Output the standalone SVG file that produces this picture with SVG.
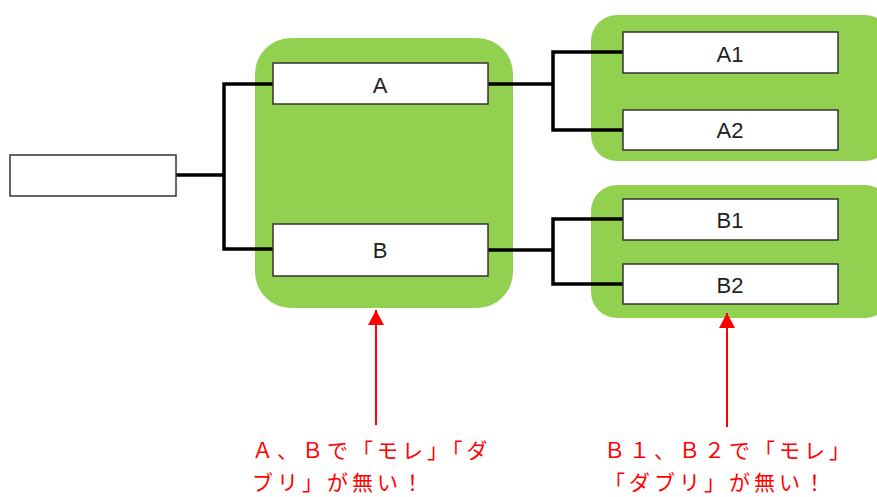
<svg xmlns="http://www.w3.org/2000/svg" width="877" height="497" viewBox="0 0 877 497">
<style>
.grp{fill:#92d050}
.box{fill:#fff;stroke:#333;stroke-width:1.5}
.lbl{font-family:"Liberation Sans","Noto Sans CJK JP",sans-serif;font-size:22px;fill:#222;text-anchor:middle}
.con{fill:none;stroke:#000;stroke-width:3.5}
.red{fill:none;stroke:#f00;stroke-width:2}
.note{font-family:"Noto Sans CJK JP",sans-serif;font-size:21px;fill:#f00;letter-spacing:4px}
</style>
<defs>
<marker id="ah" markerWidth="16" markerHeight="16" refX="15" refY="8" orient="auto" markerUnits="userSpaceOnUse" viewBox="0 0 16 16">
<path d="M0,0 L15,8 L0,16 Z" fill="#f00"/>
</marker>
</defs>
<rect class="grp" x="255" y="38" width="258" height="270" rx="36"/>
<rect class="grp" x="591" y="15" width="300" height="146" rx="26"/>
<rect class="grp" x="591" y="185" width="300" height="133" rx="26"/>
<g id="connectors">
<polyline class="con" points="176,175 224,175"/>
<polyline class="con" points="274,84 224,84 224,249 274,249"/>
<polyline class="con" points="488,84 553,84"/>
<polyline class="con" points="623,52 553,52 553,130 623,130"/>
<polyline class="con" points="488,250 553,250"/>
<polyline class="con" points="623,219 553,219 553,284 623,284"/>
</g>
<g id="root"><rect class="box" x="10" y="155" width="166" height="41"/></g>
<g id="nodeA"><rect class="box" x="273" y="63" width="215" height="41"/><text class="lbl" x="380" y="93">A</text></g>
<g id="nodeB"><rect class="box" x="273" y="224" width="215" height="52"/><text class="lbl" x="380" y="258">B</text></g>
<g id="nodeA1"><rect class="box" x="623" y="32" width="215" height="41"/><text class="lbl" x="730" y="62">A1</text></g>
<g id="nodeA2"><rect class="box" x="623" y="110" width="215" height="40"/><text class="lbl" x="730" y="138">A2</text></g>
<g id="nodeB1"><rect class="box" x="623" y="199" width="215" height="41"/><text class="lbl" x="730" y="228">B1</text></g>
<g id="nodeB2"><rect class="box" x="623" y="264" width="215" height="40"/><text class="lbl" x="730" y="293">B2</text></g>
<g id="notes">
<line class="red" x1="376" y1="425" x2="376" y2="310" marker-end="url(#ah)"/>
<line class="red" x1="727" y1="427" x2="727" y2="313" marker-end="url(#ah)"/>
<text class="note" x="252" y="458">Ａ、Ｂで「モレ」「ダ</text>
<text class="note" x="252" y="490">ブリ」が無い！</text>
<text class="note" x="604" y="458">Ｂ１、Ｂ２で「モレ」</text>
<text class="note" x="604" y="490">「ダブリ」が無い！</text>
</g>
</svg>
